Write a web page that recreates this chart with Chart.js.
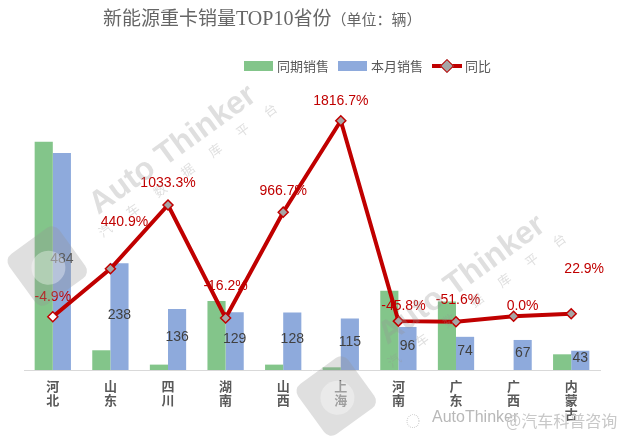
<!DOCTYPE html>
<html>
<head>
<meta charset="utf-8">
<script src="https://cdn.jsdelivr.net/npm/chart.js@4.4.1/dist/chart.umd.min.js"></script>
<style>
  html, body { margin: 0; padding: 0; background: #fff; }
  #wrap { position: relative; width: 627px; height: 447px; overflow: hidden; font-family: "Noto Sans CJK SC", sans-serif; }
  #chart { position: absolute; left: 0; top: 0; }
  .title { position: absolute; left: 103px; top: 3px; font-size: 19px; color: #666; white-space: nowrap; }
  .title .latin { font-family: "Liberation Serif", serif; font-size: 20px; }
  .title small { font-size: 15px; }
  .leg { position: absolute; top: 56px; font-size: 13px; color: #595959; line-height: 20px; white-space: nowrap; }
  .sw { position: absolute; top: 5px; width: 29px; height: 10px; }
  .foot { position: absolute; top: 408px; font-size: 16px; white-space: nowrap; }
</style>
</head>
<body>
<div id="wrap">
  <canvas id="chart" width="627" height="447"></canvas>
  <div class="title">新能源重卡销量<span class="latin">TOP10</span>省份<small>（单位：辆）</small></div>

  <div class="leg" style="left:244px"><span class="sw" style="left:0;background:#83c58a"></span><span style="margin-left:33px">同期销售</span></div>
  <div class="leg" style="left:338px"><span class="sw" style="left:0;background:#8eaadc"></span><span style="margin-left:33px">本月销售</span></div>
  <div class="leg" style="left:432px">
    <span style="position:absolute;left:0;top:8px;width:30px;height:4px;background:#c00000"></span>
    <span style="position:absolute;left:10px;top:5px;width:8px;height:8px;background:#a6a6a6;border:1px solid #c00000;transform:rotate(45deg)"></span>
    <span style="margin-left:33px">同比</span>
  </div>

  <div class="foot" style="left:406px;color:#c8c8c8;font-size:14px;top:410px">◌</div>
  <div class="foot" style="left:432px;color:#b8b8b8;font-family:'Liberation Sans',sans-serif">AutoThinker</div>
  <div class="foot" style="left:506px;color:#c8c8c8">@汽车科普咨询</div>
</div>

<script>
// categories
const provinces = ["河北", "山东", "四川", "湖南", "山西", "上海", "河南", "广东", "广西", "内蒙古"];

// series values (vehicles)
const lastYear = [509, 44, 12, 154, 12, 6, 177, 153, 0, 35];
const thisMonth = [484, 238, 136, 129, 128, 115, 96, 74, 67, 43];

// year on year change, percent
const yoy = [-4.9, 440.9, 1033.3, -16.2, 966.7, 1816.7, -45.8, -51.6, 0.0, 22.9];

// where Excel put each yoy label, relative to its marker
const yoyLabelShift = [[0, -20], [14, -47], [0, -22], [0, -32], [0, -21], [0, -20], [5, -15], [2, -22], [9, -10], [13, -45]];

const labelPlugin = {
  id: "labels",
  afterDatasetsDraw(chart) {
    const ctx = chart.ctx;
    ctx.save();
    ctx.textAlign = "center";
    ctx.textBaseline = "middle";

    // values in the blue bars
    ctx.font = '14px "Liberation Sans", Arial, sans-serif';
    ctx.fillStyle = "#404040";
    chart.getDatasetMeta(1).data.forEach((bar, i) => {
      ctx.fillText(String(thisMonth[i]), bar.x, (bar.y + bar.base) / 2 - 2);
    });

    // percentages over the line
    ctx.fillStyle = "#c00000";
    chart.getDatasetMeta(2).data.forEach((pt, i) => {
      const s = yoyLabelShift[i];
      ctx.fillText(yoy[i].toFixed(1) + "%", pt.x + s[0], pt.y + s[1]);
    });
    ctx.restore();
  }
};

function drawMark(ctx, cx, cy) {
  ctx.save();
  ctx.translate(cx, cy);
  ctx.rotate(-36 * Math.PI / 180);
  ctx.fillStyle = "rgba(150,150,150,0.3)";
  ctx.textAlign = "center";
  ctx.textBaseline = "middle";
  ctx.font = 'bold 32px "Liberation Sans", Arial, sans-serif';
  ctx.fillText("Auto Thinker", 0, 0);
  ctx.font = '13px "Noto Sans CJK SC", sans-serif';
  "汽车数据库平台".split("").forEach((c, k) => ctx.fillText(c, -102 + k * 34, 25));
  // logo block
  ctx.translate(-170, 20);
  ctx.beginPath();
  ctx.roundRect(-31, -31, 62, 62, 9);
  ctx.fill();
  ctx.fillStyle = "rgba(255,255,255,0.35)";
  ctx.beginPath();
  ctx.arc(0, 2, 17, 0, Math.PI * 2);
  ctx.fill();
  ctx.restore();
}

const markPlugin = {
  id: "marks",
  afterDraw(chart) {
    drawMark(chart.ctx, 173, 150);
    drawMark(chart.ctx, 462, 280);
  }
};

new Chart(document.getElementById("chart"), {
  data: {
    labels: provinces,
    datasets: [
      {
        type: "bar",
        label: "同期销售",
        data: lastYear,
        backgroundColor: "#83c58a",
        yAxisID: "y",
        categoryPercentage: 0.63,
        barPercentage: 1.0,
        order: 2
      },
      {
        type: "bar",
        label: "本月销售",
        data: thisMonth,
        backgroundColor: "#8eaadc",
        yAxisID: "y",
        categoryPercentage: 0.63,
        barPercentage: 1.0,
        order: 2
      },
      {
        type: "line",
        label: "同比",
        data: yoy,
        yAxisID: "y1",
        borderColor: "#c00000",
        borderWidth: 4,
        tension: 0,
        pointStyle: "rectRot",
        pointRadius: 5,
        pointBorderWidth: 1.5,
        pointBorderColor: "#c00000",
        pointBackgroundColor: ["#ffffff", "#a6a6a6", "#a6a6a6", "#a6a6a6", "#a6a6a6", "#a6a6a6", "#a6a6a6", "#a6a6a6", "#a6a6a6", "#a6a6a6"],
        order: 1
      }
    ]
  },
  options: {
    responsive: false,
    devicePixelRatio: 1,
    animation: false,
    layout: { padding: { left: 24, right: 27, top: 101, bottom: 0 } },
    plugins: {
      legend: { display: false },
      tooltip: { enabled: false }
    },
    scales: {
      x: {
        grid: { display: false, drawTicks: false },
        border: { display: true, color: "#d9d9d9", width: 1 },
        ticks: {
          autoSkip: false,
          maxRotation: 0,
          padding: 9,
          color: "#595959",
          font: { family: '"Noto Sans CJK SC", sans-serif', size: 13, weight: "bold", lineHeight: 1.08 },
          callback: (v, i) => provinces[i].split("")
        },
        afterFit: (scale) => { scale.height = 77; }
      },
      y: { display: false, min: 0, max: 600 },
      y1: { display: false, min: -500, max: 2000, position: "right" }
    }
  },
  plugins: [labelPlugin, markPlugin]
});
</script>
</body>
</html>
